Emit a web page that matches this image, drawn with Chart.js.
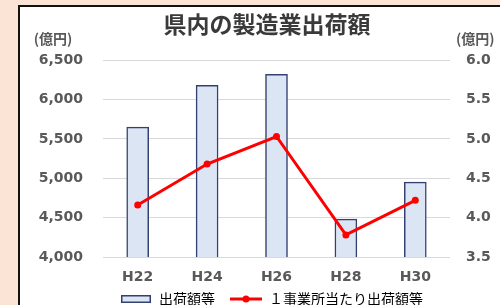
<!DOCTYPE html>
<html>
<head>
<meta charset="utf-8">
<script src="https://cdn.jsdelivr.net/npm/chart.js@4/dist/chart.umd.min.js"></script>
<style>
  html, body { margin: 0; padding: 0; width: 500px; height: 305px; overflow: hidden; background: #fbe4d5; }
  #panel { position: absolute; left: 18px; top: 5px; width: 480px; height: 310px; background: #ffffff; border-left: 2px solid #111; border-top: 2px solid #111; }
  #wrap { position: absolute; left: 0; top: 0; width: 480px; height: 309px; }
</style>
</head>
<body>
<div id="panel"><div id="wrap"><canvas id="c" width="480" height="309"></canvas></div></div>
<script>
// ---- data ----
const chartTitle = '県内の製造業出荷額';
const unitLabel = '(億円)';
const categories = ['H22', 'H24', 'H26', 'H28', 'H30'];
const shipmentLabel = '出荷額等';
const shipments = [5650, 6180, 6320, 4480, 4950];
const perEstablishmentLabel = '１事業所当たり出荷額等';
const perEstablishment = [4.16, 4.68, 5.03, 3.78, 4.22];
const leftAxisRange = [4000, 6500, 500];
const rightAxisRange = [3.5, 6.0, 0.5];

// ---- styles ----
const barFill = '#dbe5f4';
const barBorder = '#34406f';
const lineColor = '#ff0000';
const tickColor = '#595959';
const tickFont = { family: 'DejaVu Sans', size: 14, weight: 'bold' };
const cjk = '"Noto Sans CJK JP", "Noto Sans CJK SC", sans-serif';

function legendImage(kind) {
  const cv = document.createElement('canvas');
  cv.width = 41; cv.height = 12;
  const g = cv.getContext('2d');
  if (kind === 'bar') {
    g.fillStyle = barFill;
    g.fillRect(10, 2, 30, 8);
    g.strokeStyle = barBorder; g.lineWidth = 1.5;
    g.strokeRect(10.75, 2.75, 28.5, 6.5);
  } else {
    g.strokeStyle = lineColor; g.lineWidth = 3;
    g.beginPath(); g.moveTo(9, 6); g.lineTo(41, 6); g.stroke();
    g.fillStyle = lineColor;
    g.beginPath(); g.arc(25, 6, 3.5, 0, Math.PI * 2); g.fill();
  }
  return cv;
}

const unitPlugin = {
  id: 'units',
  afterDraw(chart) {
    const ctx = chart.ctx;
    ctx.save();
    ctx.font = 'bold 14px ' + cjk;
    ctx.fillStyle = tickColor;
    ctx.textBaseline = 'middle';
    const y = chart.chartArea.top - 21;
    ctx.textAlign = 'center';
    ctx.fillText(unitLabel, 33, y);
    ctx.textAlign = 'left';
    ctx.fillText(unitLabel, chart.chartArea.right + 6, y);
    ctx.restore();
  }
};

const PADL = 14;
new Chart(document.getElementById('c'), {
  type: 'bar',
  data: {
    labels: categories,
    datasets: [
      {
        type: 'bar', label: shipmentLabel, data: shipments, yAxisID: 'y',
        backgroundColor: barFill, borderColor: barBorder, borderWidth: 1.5,
        barThickness: 22, order: 1
      },
      {
        type: 'line', label: perEstablishmentLabel, data: perEstablishment, yAxisID: 'y1',
        borderColor: lineColor, backgroundColor: lineColor, borderWidth: 3,
        pointRadius: 3.5, pointBackgroundColor: lineColor, pointBorderWidth: 0,
        tension: 0, order: 0
      }
    ]
  },
  options: {
    responsive: false,
    animation: false,
    layout: { padding: { left: PADL, right: 0, top: 0, bottom: 0 } },
    plugins: {
      tooltip: { enabled: false },
      title: {
        display: true, text: chartTitle, color: '#3a3a3a',
        font: { family: cjk, size: 23, weight: 'bold' },
        padding: { top: 3, bottom: 22.5 }
      },
      legend: {
        position: 'bottom',
        labels: {
          usePointStyle: true, pointStyleWidth: 41, boxHeight: 14,
          padding: 6, color: '#333333',
          font: { family: cjk, size: 14 },
          generateLabels() {
            return [
              { text: shipmentLabel, pointStyle: legendImage('bar'), fillStyle: barFill, strokeStyle: barBorder, lineWidth: 0, datasetIndex: 0, hidden: false },
              { text: perEstablishmentLabel, pointStyle: legendImage('line'), fillStyle: lineColor, strokeStyle: lineColor, lineWidth: 0, datasetIndex: 1, hidden: false }
            ];
          }
        }
      }
    },
    scales: {
      x: {
        grid: { display: false, drawTicks: false }, border: { display: false },
        ticks: { color: tickColor, font: tickFont, padding: 12 },
        afterFit(s) { s.height = 29; }
      },
      y: {
        position: 'left',
        min: leftAxisRange[0], max: leftAxisRange[1],
        ticks: { stepSize: leftAxisRange[2], color: tickColor, font: tickFont, padding: 20,
                 callback: v => Number(v).toLocaleString('en-US') },
        grid: { color: '#d9d9d9', lineWidth: 1, drawTicks: false },
        border: { display: false },
        afterFit(s) { s.width = 83 - PADL; }
      },
      y1: {
        position: 'right',
        min: rightAxisRange[0], max: rightAxisRange[1],
        ticks: { stepSize: rightAxisRange[2], color: tickColor, font: tickFont, padding: 16,
                 callback: v => Number(v).toFixed(1) },
        grid: { display: false, drawTicks: false },
        border: { display: false },
        afterFit(s) { s.width = 50; }
      }
    }
  },
  plugins: [unitPlugin]
});
</script>
</body>
</html>
